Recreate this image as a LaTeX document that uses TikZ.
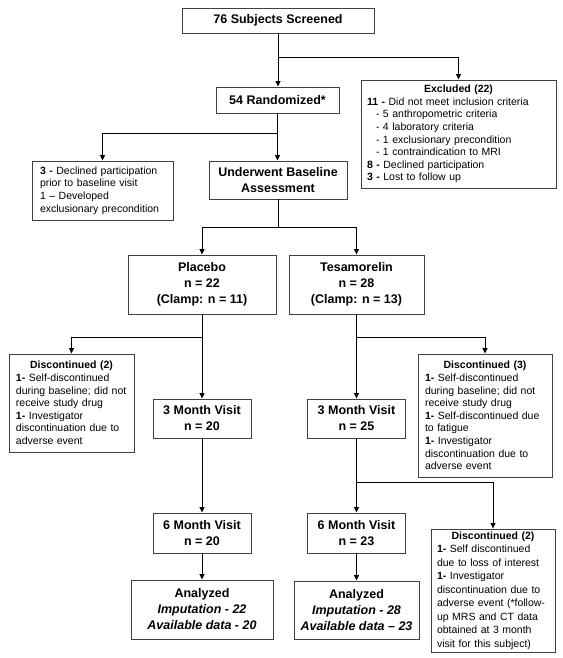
\documentclass[tikz,border=0pt]{standalone}
\usepackage{fontspec}
\setmainfont{Liberation Sans}
\usetikzlibrary{arrows.meta}
\newcommand\bx[7]{\node[#6, minimum width={#4pt-#2pt}, minimum height={#5pt-#3pt}] (#1) at ({(#2+#4)/2},{(#3+#5)/2}) {#7};}
\tikzset{
  box/.style={draw=black!75, line width=0.9pt, inner sep=0pt, align=center},
  big/.style={box, font=\fontsize{12.5}{16}\selectfont\bfseries},
  small/.style={box, align=left, font=\fontsize{10.5}{12.6}\selectfont},
  arr/.style={draw=black, line width=0.9pt, -{Triangle[length=5.5pt,width=5pt]}},
  ln/.style={draw=black, line width=0.9pt}
}
\begin{document}
\begin{tikzpicture}[x=1pt,y=-1pt]
\useasboundingbox (0,0) rectangle (562,658);
% boxes
\bx{scr}{182}{8}{374}{33}{big}{76 Subjects Screened}
\bx{rand}{216}{87}{339}{113}{big}{54 Randomized*}
\bx{excl}{361}{80}{556}{188}{small, text width=183pt}{\hfill\textbf{Excluded (22)}\hfill\null\\
\textbf{11 -} Did not meet inclusion criteria\\
\hspace*{9pt}- 5 anthropometric criteria\\
\hspace*{9pt}- 4 laboratory criteria\\
\hspace*{9pt}- 1 exclusionary precondition\\
\hspace*{9pt}- 1 contraindication to MRI\\
\textbf{8 -} Declined participation\\
\textbf{3 -} Lost to follow up}
\bx{decl}{32}{161}{173}{220}{small, text width=125pt}{\textbf{3 -} Declined participation\\
prior to baseline visit\\
1 – Developed\\
exclusionary precondition}
\bx{under}{209}{161}{347}{199}{big}{Underwent Baseline\\Assessment}
\bx{plac}{128}{255}{276}{314}{big}{Placebo\\n = 22\\(Clamp: n = 11)}
\bx{tesa}{289}{255}{424}{314}{big}{Tesamorelin\\n = 28\\(Clamp: n = 13)}
\bx{discL}{9}{354}{134}{452}{small, text width=111pt}{\hfill\textbf{Discontinued (2)}\hfill\null\\
\textbf{1-} Self-discontinued\\
during baseline; did not\\
receive study drug\\
\textbf{1-} Investigator\\
discontinuation due to\\
adverse event}
\bx{pthree}{153}{399}{251}{438}{big}{3 Month Visit\\n = 20}
\bx{tthree}{307.5}{399}{405.5}{438}{big}{3 Month Visit\\n = 25}
\bx{discM}{418}{354}{552}{477}{small, text width=120pt}{\hfill\textbf{Discontinued (3)}\hfill\null\\
\textbf{1-} Self-discontinued\\
during baseline; did not\\
receive study drug\\
\textbf{1-} Self-discontinued due\\
to fatigue\\
\textbf{1-} Investigator\\
discontinuation due to\\
adverse event}
\bx{psix}{153}{513}{251}{553}{big}{6 Month Visit\\n = 20}
\bx{tsix}{307.5}{513}{405.5}{553}{big}{6 Month Visit\\n = 23}
\bx{discR}{431}{529}{555}{652}{small, text width=112pt, font=\fontsize{10.5}{13.5}\selectfont}{\hfill\textbf{Discontinued (2)}\hfill\null\\
\textbf{1-} Self discontinued\\
due to loss of interest\\
\textbf{1-} Investigator\\
discontinuation due to\\
adverse event (*follow-\\
up MRS and CT data\\
obtained at 3 month\\
visit for this subject)}
\bx{anP}{131}{580}{273}{639}{big}{Analyzed\\\textit{Imputation - 22}\\\textit{Available data - 20}}
\bx{anT}{294}{581}{419}{639}{big}{Analyzed\\\textit{Imputation - 28}\\\textit{Available data – 23}}
% junction coordinates
\coordinate (j1) at (278,57);
\coordinate (j2) at (278,133);
\coordinate (j3) at (278,227);
\coordinate (j4) at (202,337);
\coordinate (j5) at (356.5,337);
\coordinate (j6) at (356.5,482);
% connectors
\draw[arr] (scr.south) -- (scr.south |- rand.north);
\draw[arr] (j1) -| (excl.north);
\draw[arr] (rand.south) -- (rand.south |- under.north);
\draw[arr] (j2) -| (decl.north);
\draw[ln] (under.south) -- (j3);
\draw[arr] (j3) -| (plac.north);
\draw[arr] (j3) -| (tesa.north);
\draw[arr] (plac.south) -- (plac.south |- pthree.north);
\draw[arr] (j4) -| (discL.north);
\draw[arr] (tesa.south) -- (tesa.south |- tthree.north);
\draw[arr] (j5) -| (discM.north);
\draw[arr] (pthree.south) -- (pthree.south |- psix.north);
\draw[arr] (tthree.south) -- (tthree.south |- tsix.north);
\draw[arr] (j6) -| (discR.north);
\draw[arr] (psix.south) -- (psix.south |- anP.north);
\draw[arr] (tsix.south) -- (tsix.south |- anT.north);
\end{tikzpicture}
\end{document}
